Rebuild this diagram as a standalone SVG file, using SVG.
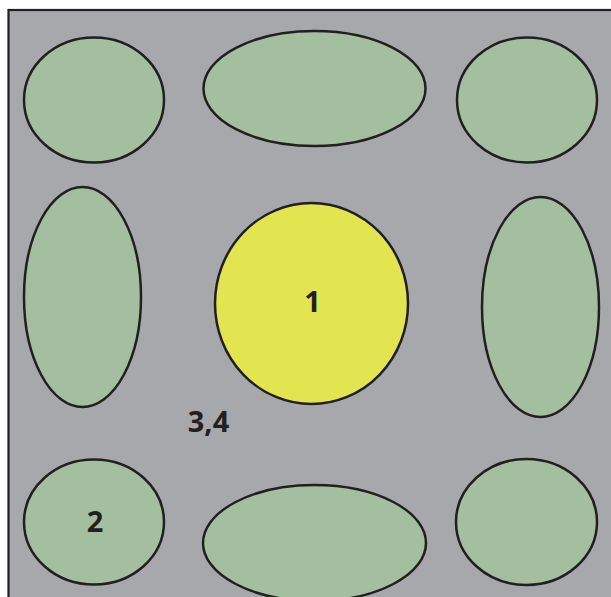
<svg xmlns="http://www.w3.org/2000/svg" width="611" height="597" viewBox="0 0 611 597">
<style>
.bg{fill:#a7a8ac;stroke:#231f20;stroke-width:2.2}
.g{fill:#a4bea0;stroke:#231f20;stroke-width:2.5}
.y{fill:#e2e450;stroke:#231f20;stroke-width:2.5}
.t{font-family:"Open Sans","Liberation Sans",sans-serif;font-weight:bold;font-size:29px;fill:#231f20;text-anchor:middle}
</style>
<rect class="bg" x="8.5" y="10" width="620" height="600"/>
<g id="n-tl"><ellipse class="g" cx="94" cy="100" rx="70" ry="62.5"/></g>
<g id="n-tm"><ellipse class="g" cx="314.5" cy="88.5" rx="111" ry="57.5"/></g>
<g id="n-tr"><ellipse class="g" cx="527" cy="100" rx="70" ry="62.5"/></g>
<g id="n-ml"><ellipse class="g" cx="82.5" cy="297" rx="58.5" ry="110"/></g>
<g id="n-c"><ellipse class="y" cx="311.5" cy="303.5" rx="96.5" ry="100.5"/><text class="t" x="312.5" y="312">1</text></g>
<g id="n-mr"><ellipse class="g" cx="540.5" cy="307" rx="58.5" ry="110"/></g>
<g id="n-bl"><ellipse class="g" cx="94" cy="522" rx="70" ry="62.5"/><text class="t" x="95" y="532">2</text></g>
<g id="n-bm"><ellipse class="g" cx="314.5" cy="543" rx="111.5" ry="58"/></g>
<g id="n-br"><ellipse class="g" cx="526.5" cy="522" rx="70.5" ry="63"/></g>
<g id="label-34"><text class="t" x="208.5" y="432">3,4</text></g>
<g id="connectors"/>
</svg>
